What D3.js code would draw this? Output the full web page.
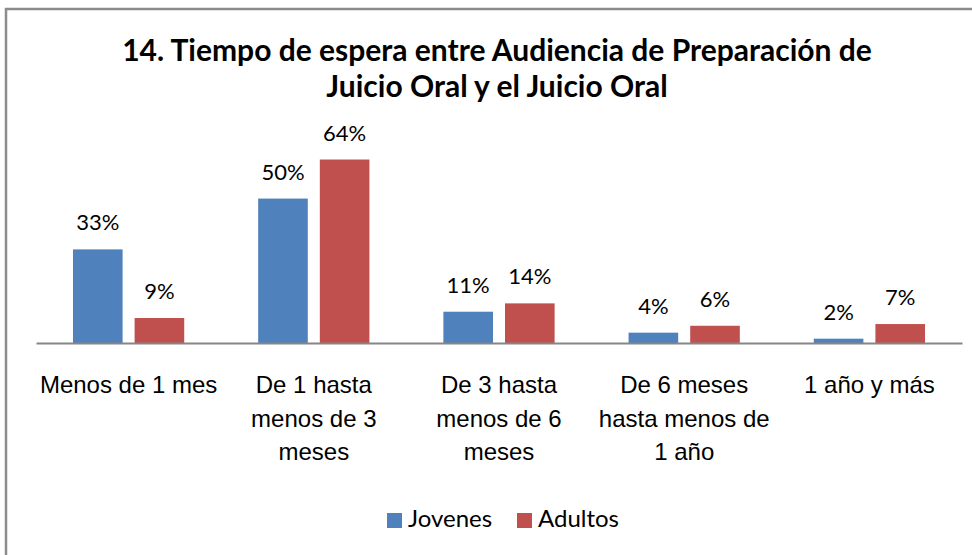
<!DOCTYPE html>
<html>
<head>
<meta charset="utf-8">
<script src="https://cdn.jsdelivr.net/npm/d3@7"></script>
<style>
  body { margin: 0; background: #fff; }
  svg { display: block; font-family: Lato, "Noto Sans", sans-serif; }
</style>
</head>
<body>
<div id="chart"></div>
<script>
// data
const categories = ["Menos de 1 mes", "De 1 hasta menos de 3 meses", "De 3 hasta menos de 6 meses",
                    "De 6 meses hasta menos de 1 año", "1 año y más"];
const tickLines = [
    ["Menos de 1 mes"],
    ["De 1 hasta", "menos de 3", "meses"],
    ["De 3 hasta", "menos de 6", "meses"],
    ["De 6 meses", "hasta menos de", "1 año"],
    ["1 año y más"]
];
const seriesNames = ["Jovenes", "Adultos"];
const jovenes = [0.326, 0.503, 0.109, 0.036, 0.015];
const adultos = [0.087, 0.639, 0.138, 0.060, 0.066];
const colors = ["#4F81BD", "#C0504D"];
const titleLines = ["14. Tiempo de espera entre Audiencia de Preparación de", "Juicio Oral y el Juicio Oral"];

const W = 972, H = 555;
const svg = d3.select("#chart").append("svg")
    .attr("width", W)
    .attr("height", H);

svg.append("rect").attr("width", W).attr("height", H).attr("fill", "#fff");

// chart border (right and bottom edges fall outside the picture)
svg.append("rect")
    .attr("x", 6).attr("y", 9)
    .attr("width", 1000).attr("height", 600)
    .attr("fill", "none")
    .attr("stroke", "#8c8c8c")
    .attr("stroke-width", 2.5);

// title
svg.append("text")
    .attr("text-anchor", "middle")
    .style("font-size", "30px")
    .style("font-weight", "bold")
    .selectAll("tspan")
    .data(titleLines)
    .join("tspan")
    .attr("x", 497)
    .attr("y", (d, i) => 61 + i * 36)
    .text(d => d);

// scales
const x0 = d3.scaleBand()
    .domain(categories)
    .range([36, 962]);

const x1 = d3.scaleBand()
    .domain(seriesNames)
    .range([0, x0.bandwidth()])
    .paddingInner(0.195)
    .paddingOuter(0.6);

const y = d3.scaleLinear()
    .domain([0, 0.7])
    .range([343, 142]);

const rows = categories.map((c, i) => ({cat: c, values: [jovenes[i], adultos[i]]}));

const groups = svg.selectAll("g.group")
    .data(rows)
    .join("g")
    .attr("class", "group")
    .attr("transform", d => `translate(${x0(d.cat)},0)`);

const cells = groups.selectAll("g.cell")
    .data(d => d.values.map((v, k) => ({series: seriesNames[k], value: v, k: k})))
    .join("g")
    .attr("class", "cell");

cells.append("rect")
    .attr("x", d => x1(d.series))
    .attr("y", d => y(d.value))
    .attr("width", x1.bandwidth())
    .attr("height", d => y(0) - y(d.value))
    .attr("fill", d => colors[d.k]);

cells.append("text")
    .attr("x", d => x1(d.series) + x1.bandwidth() / 2)
    .attr("y", d => y(d.value) - 19)
    .attr("text-anchor", "middle")
    .style("font-size", "22px")
    .attr("fill", "#000")
    .text(d => d3.format(".0%")(d.value));

// category axis
const xAxis = svg.append("g")
    .attr("transform", `translate(0,${y(0)})`)
    .call(d3.axisBottom(x0).tickSize(0).tickFormat(""));
xAxis.select(".domain")
    .attr("stroke", "#868686")
    .attr("stroke-width", 2);

xAxis.selectAll(".tick text").remove();
xAxis.selectAll(".tick")
    .append("text")
    .attr("text-anchor", "middle")
    .attr("fill", "#000")
    .style("font-size", "24px")
    .selectAll("tspan")
    .data(d => tickLines[categories.indexOf(d)])
    .join("tspan")
    .attr("x", 0)
    .attr("y", (d, i) => 50 + i * 33.5)
    .text(d => d);

// legend
const legendX = [387, 517];
const legend = svg.selectAll("g.legend")
    .data(seriesNames)
    .join("g")
    .attr("class", "legend")
    .attr("transform", (d, i) => `translate(${legendX[i]},513)`);
legend.append("rect")
    .attr("width", 15).attr("height", 15)
    .attr("fill", (d, i) => colors[i]);
legend.append("text")
    .attr("x", 21)
    .attr("y", 14)
    .style("font-size", "24px")
    .text(d => d);
</script>
</body>
</html>
